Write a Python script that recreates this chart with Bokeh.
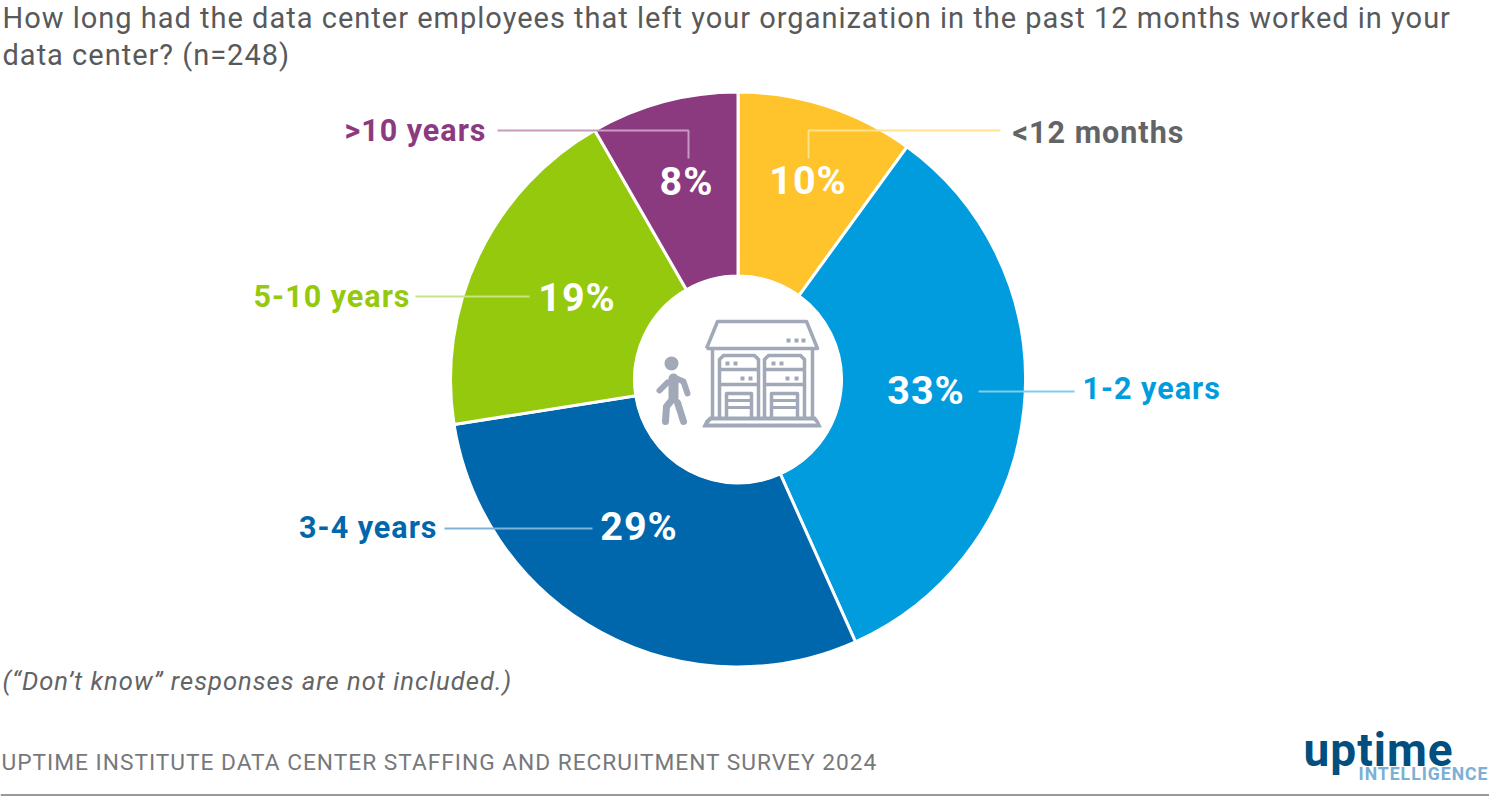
from math import pi
from bokeh.plotting import figure
from bokeh.core.properties import value
from bokeh.embed import file_html
from bokeh.resources import INLINE

categories = ["<12 months", "1-2 years", "3-4 years", "5-10 years", ">10 years"]
shares = [10.0, 33.3, 29.2, 19.2, 8.3]
pct_labels = ["10%", "33%", "29%", "19%", "8%"]
colors = ["#FFC42B", "#009CDE", "#0067AC", "#94C90D", "#8C3A80"]
label_colors = ["#636466", "#009CDE", "#0067AC", "#94C90D", "#8C3A80"]
leader_colors = ["#FDE28F", "#7FCDEE", "#7FB3D5", "#CAE485", "#C79BC0"]
title_lines = ["How long had the data center employees that left your organization in the past 12 months worked in your",
               "data center? (n=248)"]
footnote = "(\u201cDon\u2019t know\u201d responses are not included.)"
source = "UPTIME INSTITUTE DATA CENTER STAFFING AND RECRUITMENT SURVEY 2024"

W, H = 1489, 801
FONT = value("Roboto")
p = figure(width=W, height=H, x_range=(0, W), y_range=(0, H), output_backend="svg",
           toolbar_location=None, min_border=0)
p.axis.visible = False
p.grid.visible = False
p.outline_line_color = None
p.background_fill_color = "white"
p.styles = {"position": "absolute", "left": "0px", "top": "0px", "letter-spacing": "1px"}

def Y(v):
    return H - v

CX, CY, RO, RI = 737.5, 379, 287.5, 103.5

# donut
total = sum(shares)
start = 0.0
for s, c in zip(shares, colors):
    a0 = pi / 2 - 2 * pi * (start + s) / total
    a1 = pi / 2 - 2 * pi * start / total
    p.annular_wedge(CX, Y(CY), inner_radius=RI, outer_radius=RO, start_angle=a0, end_angle=a1,
                    fill_color=c, line_color="white", line_width=3)
    start += s
p.circle(CX, Y(CY), radius=RI + 1, fill_color="white", line_color=None)

# leaders
leaders = [([808, 808, 1000], [158, 130, 130]),
           ([978, 1074], [391, 391]),
           ([444, 592], [528, 528]),
           ([415, 529], [296, 296]),
           ([497, 688, 688], [130, 130, 158])]
for (xs, ys), c in zip(leaders, leader_colors):
    p.line(xs, [Y(v) for v in ys], line_color=c, line_width=2)

def txt(x, y, t, size, color, style="normal", align="left", font=FONT):
    p.text([x], [Y(y)], text=[t], text_font=font, text_font_size=f"{size}px", text_color=color,
           text_font_style=style, text_align=align, text_baseline="alphabetic")

# percentages
pct_pos = [(806, 180), (924, 390), (637, 526), (575, 297), (685, 181)]
for (x, y), t in zip(pct_pos, pct_labels):
    txt(x, y, t, 39.5, "white", "bold", "center")

# category labels
cat_pos = [(1012, 132, "left"), (1082, 388, "left"), (428, 527, "right"), (400, 296, "right"), (477, 130, "right")]
for (x, y, al), t, c in zip(cat_pos, categories, label_colors):
    txt(x, y, t, 30.5, c, "bold", al)

# title etc.
txt(2, 17, title_lines[0], 29, "#58595B")
txt(2, 54, title_lines[1], 29, "#58595B")
txt(2, 680, footnote, 25.6, "#636466", "italic")
txt(1, 762, source, 22.7, "#77787B")
txt(1303, 749, "uptime", 46, "#004F7F", "bold")
txt(1358, 773, "INTELLIGENCE", 17.6, "#7BAFD4", "bold")
p.line([0, W], [Y(794.5), Y(794.5)], line_color="#999999", line_width=2)

# icon: building
IC = "#A1A9B8"
def pl(xs, ys, w=3.5):
    p.line(xs, [Y(v) for v in ys], line_color=IC, line_width=w, line_join="round")
pl([706, 717, 806, 817, 706], [348, 321, 321, 348, 348])
pl([712, 712], [348, 418]); pl([812, 812], [348, 418])
for x0, x1 in [(719, 758), (764, 804)]:
    pl([x0, x0, x0 + 4, x1 - 4, x1, x1], [418, 359, 355, 355, 359, 418])
    pl([x0, x1], [369, 369]); pl([x0, x1], [384, 384])
    d0 = x0 + 7
    d1 = x1 - 7
    pl([d0, d0, d1, d1], [418, 393, 393, 418])
    pl([d0, d1], [400, 400], 3); pl([d0, d1], [407, 407], 3)
p.patch([702, 705, 709, 815, 818, 821, 821, 702], [Y(v) for v in [426, 420, 416, 416, 420, 426, 427, 427]],
        fill_color=IC, line_color=None)
p.patch([708, 711, 813, 816], [Y(v) for v in [423, 420, 420, 423]], fill_color="white", line_color=None)
dots = [(727, 363), (735, 363), (742, 378), (750, 378), (773, 363), (781, 363), (787, 378), (796, 378),
        (788, 340), (796, 340), (803, 340)]
p.scatter([d[0] for d in dots], [Y(d[1]) for d in dots], marker="square", size=4, fill_color=IC, line_color=None)

# icon: person
p.circle([671], [Y(363)], radius=7, fill_color=IC, line_color=None)
def limb(xs, ys, w):
    p.line(xs, [Y(v) for v in ys], line_color=IC, line_width=w, line_cap="round", line_join="round")
limb([673, 673], [378, 397], 10)
limb([676, 683, 687], [378, 381, 393], 6)
limb([667, 659], [382, 390], 6)
limb([671, 666, 665], [400, 406, 421], 7)
limb([677, 683], [402, 421], 7)

open("out.html", "w").write(file_html(p, INLINE))
